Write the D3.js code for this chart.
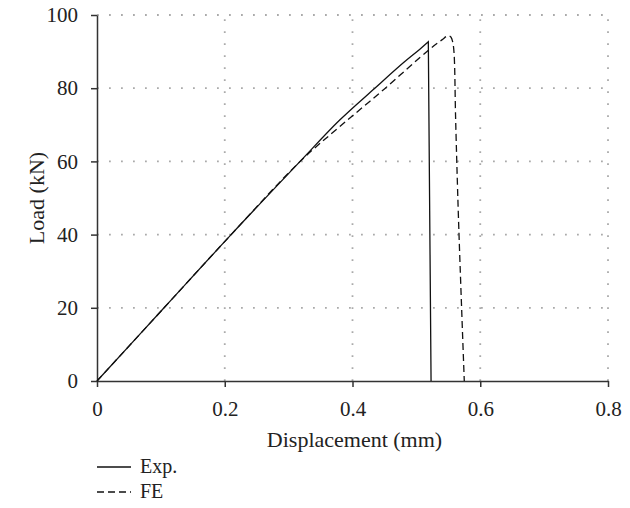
<!DOCTYPE html>
<html><head><meta charset="utf-8">
<script src="https://cdn.jsdelivr.net/npm/d3@7"></script>
<style>body{margin:0;background:#fff}svg{display:block}text{font-family:"Liberation Serif","DejaVu Serif",serif;fill:#222}</style>
</head><body><svg id="c" width="630" height="508"></svg>
<script>
const expX = [0, 0.105, 0.21, 0.318, 0.38, 0.435, 0.48, 0.505, 0.5187, 0.5195, 0.523];
const expY = [0, 20, 40, 60, 71.3, 80, 87.0, 90.6, 92.7, 92.7, 0];
const feX = [0, 0.105, 0.21, 0.318, 0.38, 0.45, 0.519, 0.54, 0.549, 0.554, 0.557, 0.559, 0.5615, 0.566, 0.575];
const feY = [0, 20, 40, 60, 69.5, 79.8, 90.4, 93.2, 94.3, 94.0, 92.5, 89.6, 71.3, 44, 0];
const xTicks = [0, 0.2, 0.4, 0.6, 0.8];
const yTicks = [0, 20, 40, 60, 80, 100];
const seriesNames = ["Exp.", "FE"];

const svg = d3.select("#c");
const x = d3.scaleLinear().domain([0, 0.8]).range([97, 608]);
const y = d3.scaleLinear().domain([0, 100]).range([381, 15]);

// grid
const g = svg.append("g");
g.selectAll(".hg").data(yTicks.filter(d => d > 0)).join("line")
  .attr("x1", x(0)).attr("x2", x(0.8)).attr("y1", d => y(d)).attr("y2", d => y(d))
  .attr("stroke", "#aaa").attr("stroke-width", 1.8).attr("stroke-dasharray", "1.8,10.2");
g.selectAll(".vg").data(xTicks.filter(d => d > 0)).join("line")
  .attr("y1", y(0)).attr("y2", y(100)).attr("x1", d => x(d)).attr("x2", d => x(d))
  .attr("stroke", "#aaa").attr("stroke-width", 1.8).attr("stroke-dasharray", "1.8,10.2");

// axes
const fmt = d => d === 0 ? "0" : String(d);
const xa = svg.append("g").attr("transform", `translate(0,${y(0)})`)
  .call(d3.axisBottom(x).tickValues(xTicks).tickFormat(fmt).tickSize(6).tickSizeOuter(0));
const ya = svg.append("g").attr("transform", `translate(${x(0)},0)`)
  .call(d3.axisLeft(y).tickValues(yTicks).tickFormat(fmt).tickSize(6).tickSizeOuter(0));
[xa, ya].forEach(a => {
  a.select(".domain").attr("stroke", "#333").attr("stroke-width", 1.5);
  a.selectAll(".tick line").attr("stroke", "#333").attr("stroke-width", 1.5);
  a.selectAll(".tick text").style("font-family", '"Liberation Serif",serif').style("font-size", "21px").attr("fill", "#222");
});
xa.selectAll(".tick text").attr("dy", "0").attr("y", 35);
ya.selectAll(".tick text").attr("x", -19);

// titles
svg.append("text").attr("x", x(0.4) + 2).attr("y", 447).attr("text-anchor", "middle").style("font-size", "22px").text("Displacement (mm)");
svg.append("text").attr("transform", `translate(44,${y(50)}) rotate(-90)`).attr("text-anchor", "middle").style("font-size", "22px").text("Load (kN)");

// lines
const curve = d3.line().x(d => x(d[0])).y(d => y(d[1])).curve(d3.curveCatmullRom.alpha(0.5));
const expData = expX.map((v, i) => [v, expY[i]]);
const feData = feX.map((v, i) => [v, feY[i]]);
svg.append("path").attr("d", curve(expData.slice(0, 9)) + "L" + x(expX[10]) + "," + y(expY[10]))
  .attr("fill", "none").attr("stroke", "#111").attr("stroke-width", 1.3);
svg.append("path").attr("d", curve(feData))
  .attr("fill", "none").attr("stroke", "#111").attr("stroke-width", 1.3).attr("stroke-dasharray", "7,4");

// legend
const leg = svg.append("g");
seriesNames.forEach((n, i) => {
  const yy = 467 + i * 25;
  leg.append("line").attr("x1", 97).attr("x2", 131).attr("y1", yy).attr("y2", yy)
    .attr("stroke", "#111").attr("stroke-width", 1.3).attr("stroke-dasharray", i ? "7,4" : null);
  leg.append("text").attr("x", 140).attr("y", yy + 6).style("font-size", "20px").text(n);
});
</script></body></html>
